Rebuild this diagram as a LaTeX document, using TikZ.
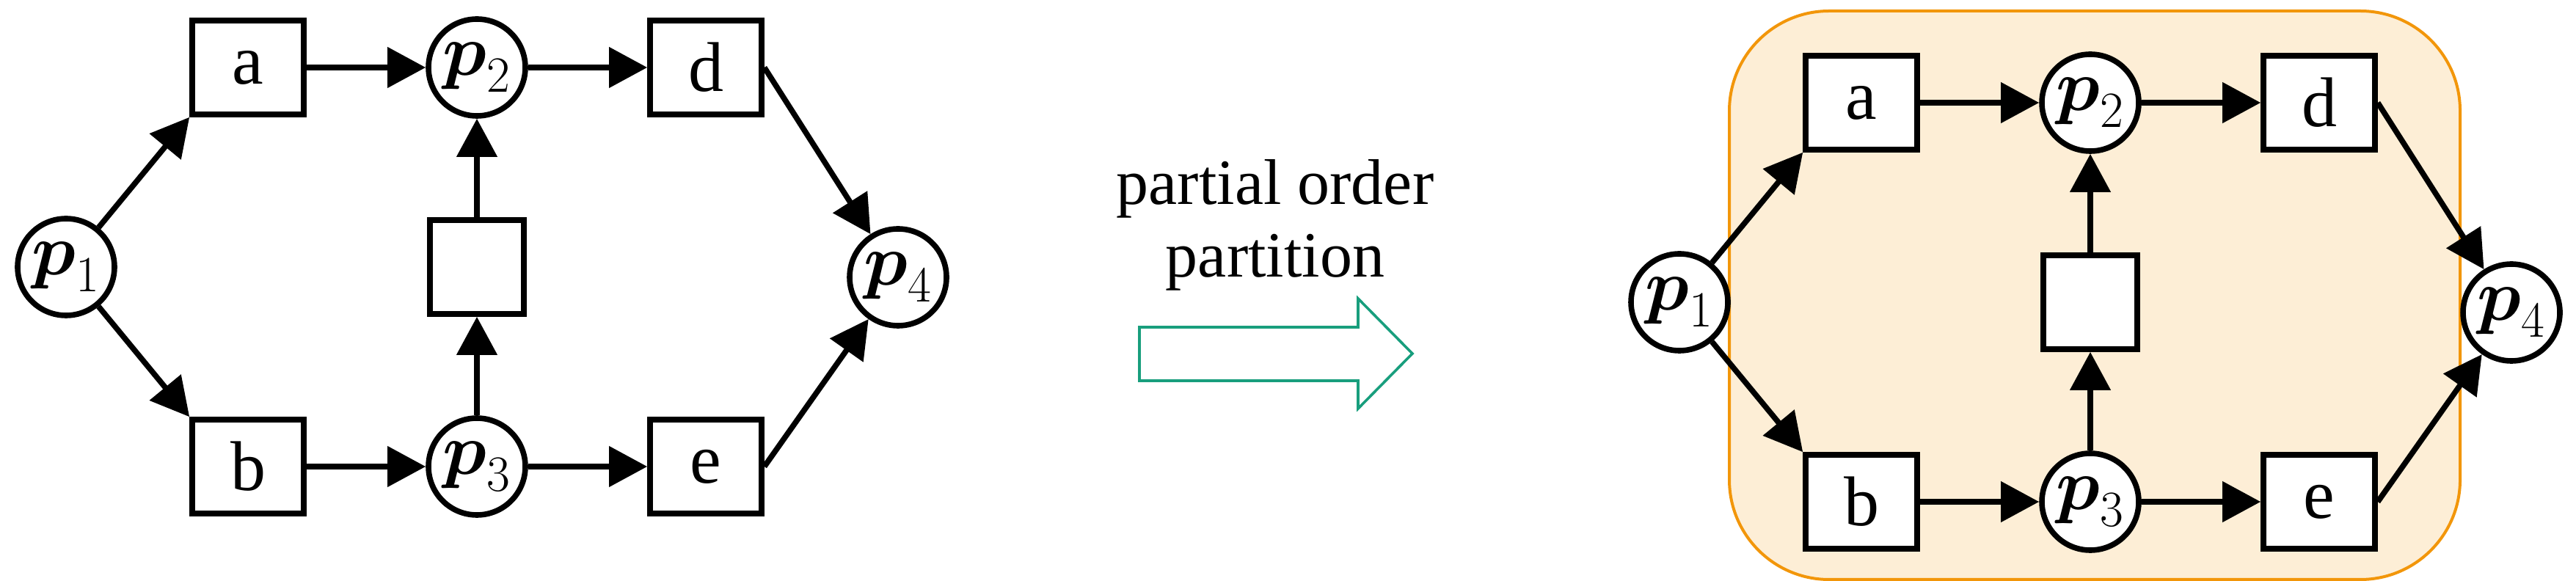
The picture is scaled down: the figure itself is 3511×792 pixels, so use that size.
\documentclass[tikz,border=0pt]{standalone}
\usepackage{amsmath}
\usepackage{fontspec}
\setmainfont{Liberation Serif}
\usetikzlibrary{positioning, arrows.meta}

\definecolor{partfill}{RGB}{253,238,214}
\definecolor{partline}{RGB}{242,150,10}
\definecolor{flowgreen}{RGB}{24,158,125}

\tikzset{
    place/.style={circle, draw, fill=white, line width=1.9pt, minimum size=33pt, inner sep=0pt, font=\fontsize{24}{28}\selectfont},
    trans/.style={rectangle, draw, fill=white, line width=1.9pt, minimum width=38pt, minimum height=32pt, inner sep=0pt, font=\fontsize{24}{28}\selectfont},
    arc/.style={line width=1.9pt, -{Triangle[length=13pt,width=13.5pt]}}
}

\begin{document}
\begin{tikzpicture}[x=0.25pt, y=0.25pt, on grid, node distance=68pt and 78pt]
    \useasboundingbox (0,0) rectangle (3511,792);
    % partition block behind the second net
    \draw[partline, fill=partfill, line width=1pt, rounded corners=34pt] (2357,2) rectangle (3353,777);

    \foreach \s/\x/\y in {L/650/700, R/2849/652} {
        \node[place] (p2\s) at (\x,\y) {$\boldsymbol{p}_2$};
        \node[trans, left=of p2\s] (a\s) {a};
        \node[trans, right=of p2\s] (d\s) {d};
        \node[trans, minimum width=32pt, below=of p2\s] (t\s) {};
        \node[place, below=of t\s] (p3\s) {$\boldsymbol{p}_3$};
        \node[trans, left=of p3\s] (b\s) {b};
        \node[trans, right=of p3\s] (e\s) {e};
        \node[place, left=140pt of t\s] (p1\s) {$\boldsymbol{p}_1$};
        \node[place, below right=3.5pt and 143.5pt of t\s] (p4\s) {$\boldsymbol{p}_4$};

        \draw[arc] (p1\s) -- (a\s.south west);
        \draw[arc] (p1\s) -- (b\s.north west);
        \draw[arc] (a\s) -- (p2\s);
        \draw[arc] (p2\s) -- (d\s);
        \draw[arc] (b\s) -- (p3\s);
        \draw[arc] (p3\s) -- (e\s);
        \draw[arc] (p3\s) -- (t\s);
        \draw[arc] (t\s) -- (p2\s);
        \draw[arc] (d\s.east) -- (p4\s);
        \draw[arc] (e\s.east) -- (p4\s);
    }

    % hollow arrow between the two nets
    \draw[flowgreen, line width=0.9pt] (1553,273) -- (1851,273) -- (1851,235) -- (1925,310)
        -- (1851,385) -- (1851,346) -- (1553,346) -- cycle;
    \node[font=\fontsize{22}{24.75}\selectfont, align=center] (label) at (1738,485) {partial order\\partition};
\end{tikzpicture}
\end{document}
